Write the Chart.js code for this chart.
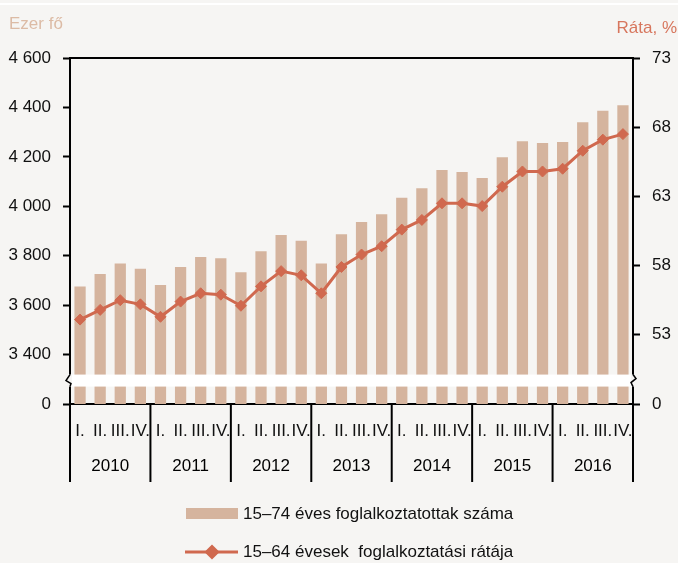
<!DOCTYPE html>
<html>
<head>
<meta charset="utf-8">
<script src="https://cdn.jsdelivr.net/npm/chart.js@4"></script>
<style>
  html, body { margin: 0; padding: 0; background: #f6f5f3; }
  #wrap { position: relative; width: 678px; height: 563px; }
  #topline { position: absolute; left: 0; top: 3px; width: 678px; height: 2px; background: #fff; }
</style>
</head>
<body>
<div id="wrap">
  <div id="topline"></div>
  <canvas id="grafico" width="678" height="563"></canvas>
</div>
<script>
// adatok
const years = ['2010', '2011', '2012', '2013', '2014', '2015', '2016'];
const quarters = ['I.', 'II.', 'III.', 'IV.'];
const employed = [
  3675, 3726, 3768, 3747,
  3682, 3754, 3795, 3790,
  3733, 3818, 3884, 3861,
  3769, 3887, 3936, 3968,
  4035, 4073, 4147, 4139,
  4114, 4198, 4263, 4256,
  4260, 4340, 4387, 4409
];
const rate = [
  54.1, 54.8, 55.5, 55.2,
  54.3, 55.4, 56.0, 55.9,
  55.1, 56.5, 57.6, 57.3,
  56.0, 57.9, 58.8, 59.4,
  60.6, 61.3, 62.5, 62.5,
  62.3, 63.7, 64.8, 64.8,
  65.0, 66.3, 67.1, 67.5
];
const leftTicks = { min: 3200, max: 4600, step: 200 };   // 3200 = "0" a törés alatt
const rightTicks = { min: 48, max: 73, step: 5 };        // 48 = "0"

const barColor = '#d5b49e';
const lineColor = '#d0694f';
const FONT = "'Liberation Sans', Arial, sans-serif";

const labels = years.flatMap(() => quarters);

function fmt(v) {
  return String(v).replace(/\B(?=(\d{3})+(?!\d))/g, ' ');
}

// évek, elválasztók, törés, felirat, jelmagyarázat
const extras = {
  id: 'extras',
  afterDraw(chart) {
    const c = chart.ctx;
    const x = chart.scales.x;
    const y = chart.scales.y;
    const area = chart.chartArea;
    const w = x.getPixelForValue(1) - x.getPixelForValue(0);

    c.save();
    // felső keret
    c.strokeStyle = '#000';
    c.lineWidth = 2;
    c.beginPath();
    c.moveTo(area.left - 1, area.top);
    c.lineTo(area.right + 1, area.top);
    c.stroke();

    // tengelytörés
    const bTop = y.getPixelForValue(3400) + 20;
    const bBot = bTop + 12;
    c.fillStyle = '#fff';
    c.fillRect(area.left + 1, bTop, area.right - area.left - 2, bBot - bTop);
    c.fillStyle = '#f6f5f3';
    c.fillRect(area.left - 2, bTop, 4, bBot - bTop);
    c.fillRect(area.right - 2, bTop, 4, bBot - bTop);
    c.lineWidth = 1.5;
    c.beginPath();
    c.moveTo(area.left, bTop);
    c.lineTo(area.left - 4, bTop + 6);
    c.lineTo(area.left + 1, bTop + 9);
    c.lineTo(area.left, bBot);
    c.moveTo(area.right, bTop);
    c.lineTo(area.right + 3, bTop + 4);
    c.lineTo(area.right - 2, bTop + 8);
    c.lineTo(area.right, bBot);
    c.stroke();

    // év elválasztók és feliratok
    c.lineWidth = 2;
    c.fillStyle = '#000';
    c.font = '17px ' + FONT;
    c.textAlign = 'center';
    c.textBaseline = 'middle';
    for (let j = 0; j <= years.length; j++) {
      const bx = j < years.length ? x.getPixelForValue(j * 4) - w / 2 : area.right;
      c.beginPath();
      c.moveTo(bx, area.bottom);
      c.lineTo(bx, 482);
      c.stroke();
      if (j < years.length) {
        c.fillText(years[j], bx + w * 2, 466);
      }
    }

    // tengelycímek
    c.textAlign = 'left';
    c.fillStyle = '#dcbba5';
    c.fillText('Ezer fő', 9, 24);
    c.textAlign = 'right';
    c.fillStyle = '#d7765d';
    c.fillText('Ráta, %', 677, 28);

    // jelmagyarázat
    c.textAlign = 'left';
    c.fillStyle = barColor;
    c.fillRect(186, 508, 52, 11);
    c.fillStyle = '#111';
    c.fillText(chart.data.datasets[0].label, 243, 514);

    c.strokeStyle = lineColor;
    c.lineWidth = 3;
    c.beginPath();
    c.moveTo(185, 552);
    c.lineTo(238, 552);
    c.stroke();
    c.fillStyle = lineColor;
    Chart.helpers.drawPoint(c, { pointStyle: 'rectRot', radius: 5.5, borderWidth: 1 }, 212, 552);
    c.fill();
    c.fillStyle = '#111';
    c.fillText(chart.data.datasets[1].label, 243, 552);
    c.restore();
  }
};

new Chart(document.getElementById('grafico'), {
  data: {
    labels: labels,
    datasets: [
      {
        type: 'bar',
        label: '15–74 éves foglalkoztatottak száma',
        data: employed,
        backgroundColor: barColor,
        yAxisID: 'y',
        barPercentage: 0.56,
        categoryPercentage: 1,
        order: 2
      },
      {
        type: 'line',
        label: '15–64 évesek  foglalkoztatási rátája',
        data: rate,
        borderColor: lineColor,
        backgroundColor: lineColor,
        borderWidth: 3,
        pointStyle: 'rectRot',
        pointRadius: 5.5,
        pointBorderWidth: 1,
        tension: 0,
        yAxisID: 'y1',
        order: 1
      }
    ]
  },
  options: {
    responsive: false,
    animation: false,
    layout: { padding: { top: 58, left: 0, right: 0, bottom: 0 }, autoPadding: false },
    plugins: {
      legend: { display: false },
      tooltip: { enabled: false }
    },
    scales: {
      x: {
        offset: true,
        grid: { display: false, drawTicks: false },
        border: { display: true, color: '#000', width: 2 },
        ticks: {
          color: '#111',
          font: { size: 17, family: FONT },
          padding: 17,
          maxRotation: 0,
          autoSkip: false
        },
        afterFit: s => { s.height = 159; }
      },
      y: {
        position: 'left',
        min: leftTicks.min,
        max: leftTicks.max,
        grid: { drawOnChartArea: false, tickLength: 7, tickColor: '#000', tickWidth: 2 },
        border: { color: '#000', width: 2 },
        ticks: {
          stepSize: leftTicks.step,
          color: '#111',
          font: { size: 17, family: FONT },
          padding: 12,
          callback: v => v === leftTicks.min ? '0' : fmt(v)
        },
        afterFit: s => { s.width = 70; }
      },
      y1: {
        position: 'right',
        min: rightTicks.min,
        max: rightTicks.max,
        grid: { drawOnChartArea: false, tickLength: 7, tickColor: '#000', tickWidth: 2 },
        border: { color: '#000', width: 2 },
        ticks: {
          stepSize: rightTicks.step,
          color: '#111',
          font: { size: 17, family: FONT },
          padding: 12,
          callback: v => v === rightTicks.min ? '0' : v
        },
        afterFit: s => { s.width = 45; }
      }
    }
  },
  plugins: [extras]
});
</script>
</body>
</html>
